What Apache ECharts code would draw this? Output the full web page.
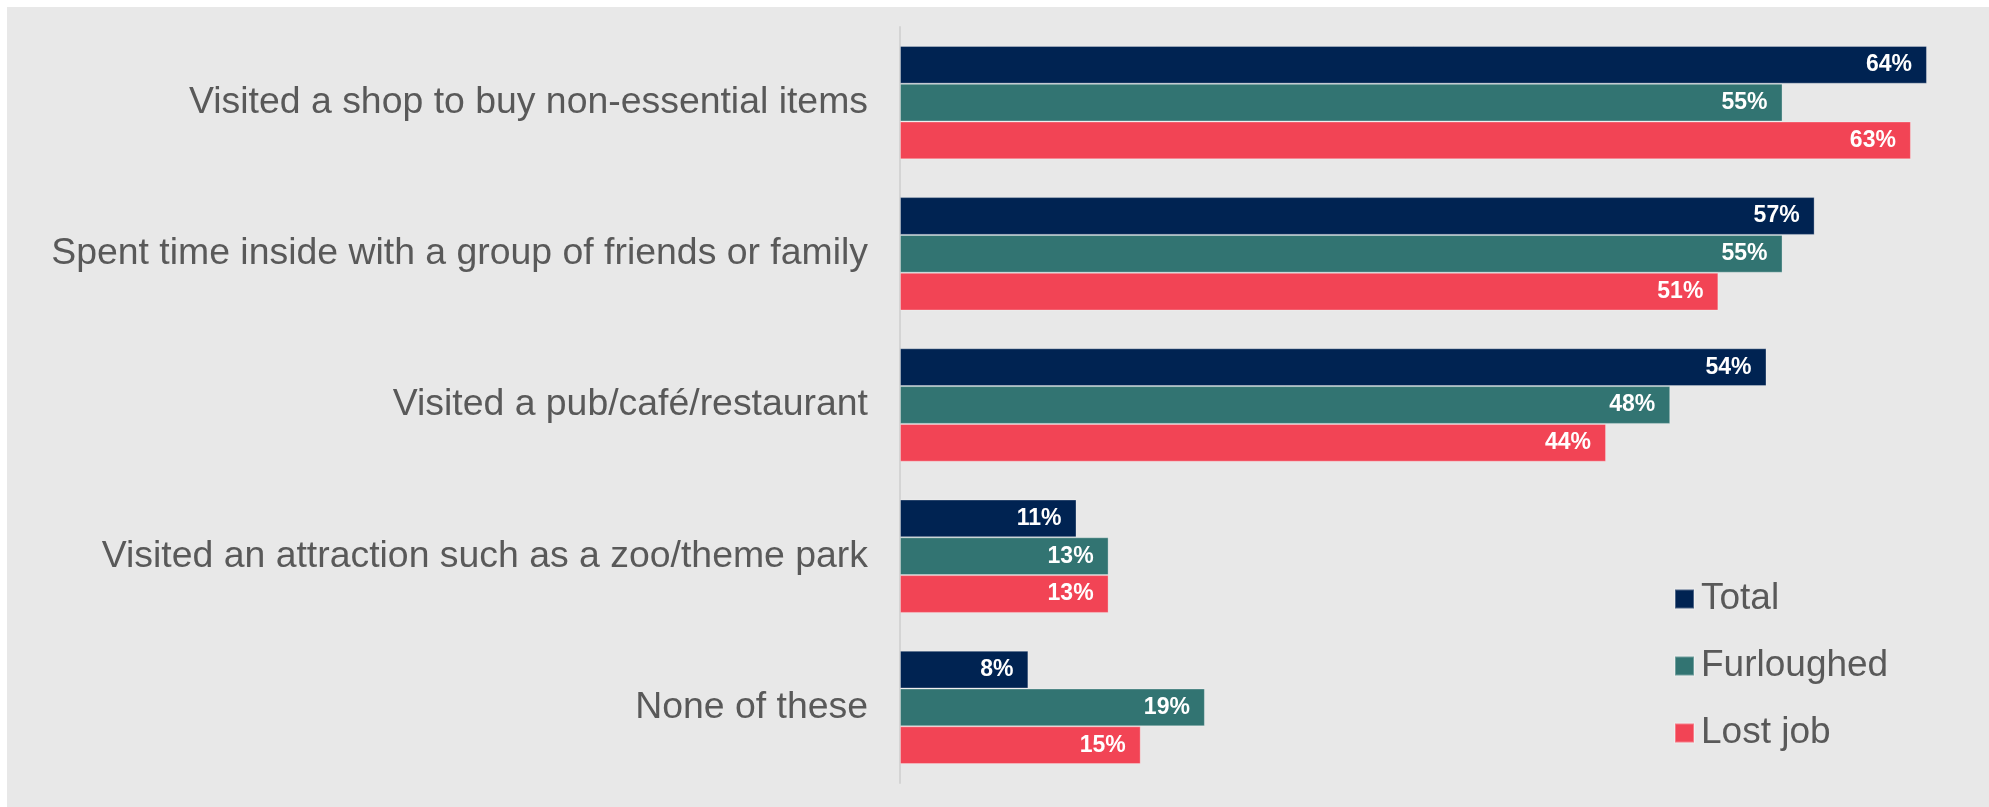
<!DOCTYPE html>
<html>
<head>
<meta charset="utf-8">
<script src="https://cdn.jsdelivr.net/npm/echarts@6/dist/echarts.min.js"></script>
<style>
  html, body { margin: 0; padding: 0; background: #ffffff; }
  #chart { width: 1989px; height: 807px; }
</style>
</head>
<body>
<div id="chart"></div>
<script>
const categories = [
  "Visited a shop to buy non-essential items",
  "Spent time inside with a group of friends or family",
  "Visited a pub/café/restaurant",
  "Visited an attraction such as a zoo/theme park",
  "None of these"
];
const seriesNames = ["Total", "Furloughed", "Lost job"];
const totalValues = [64, 57, 54, 11, 8];
const furloughedValues = [55, 55, 48, 13, 19];
const lostJobValues = [63, 51, 44, 13, 15];

const colors = ["#002352", "#327472", "#F24455"];
const dataSets = [totalValues, furloughedValues, lostJobValues];

const chart = echarts.init(document.getElementById('chart'), null, { renderer: 'canvas' });

const font = "'Liberation Sans', Arial, sans-serif";

const option = {
  backgroundColor: '#ffffff',
  animation: false,
  graphic: [{
    type: 'rect',
    z: -100,
    silent: true,
    shape: { x: 7, y: 7, width: 1989, height: 807 },
    style: { fill: '#E8E8E8' }
  }],
  legend: {
    orient: 'vertical',
    left: 1674,
    top: 580,
    padding: 0,
    itemWidth: 19,
    itemHeight: 19,
    itemGap: 29,
    icon: 'rect',
    data: seriesNames,
    textStyle: {
      fontFamily: font,
      fontSize: 37,
      color: '#595959',
      lineHeight: 38,
      padding: [0, 0, 0, 2]
    }
  },
  grid: {
    left: 900,
    right: 46,
    top: 27,
    bottom: 24,
    containLabel: false
  },
  xAxis: {
    type: 'value',
    min: 0,
    max: 65,
    show: false
  },
  yAxis: {
    type: 'category',
    data: categories,
    inverse: true,
    axisLine: { show: true, lineStyle: { color: '#D4D4D4', width: 2 } },
    axisTick: { show: false },
    axisLabel: {
      margin: 32,
      fontFamily: font,
      fontSize: 37.4,
      color: '#595959'
    }
  },
  series: seriesNames.map((name, i) => ({
    name: name,
    type: 'bar',
    data: dataSets[i],
    barGap: '0%',
    barCategoryGap: '25%',
    itemStyle: {
      color: colors[i],
      borderColor: 'rgba(255,255,255,0.3)',
      borderWidth: 1
    },
    label: {
      show: true,
      position: 'insideRight',
      distance: 15,
      formatter: p => p.value + '%',
      color: '#ffffff',
      fontWeight: 'bold',
      fontFamily: font,
      fontSize: 23
    }
  }))
};

chart.setOption(option);
</script>
</body>
</html>
